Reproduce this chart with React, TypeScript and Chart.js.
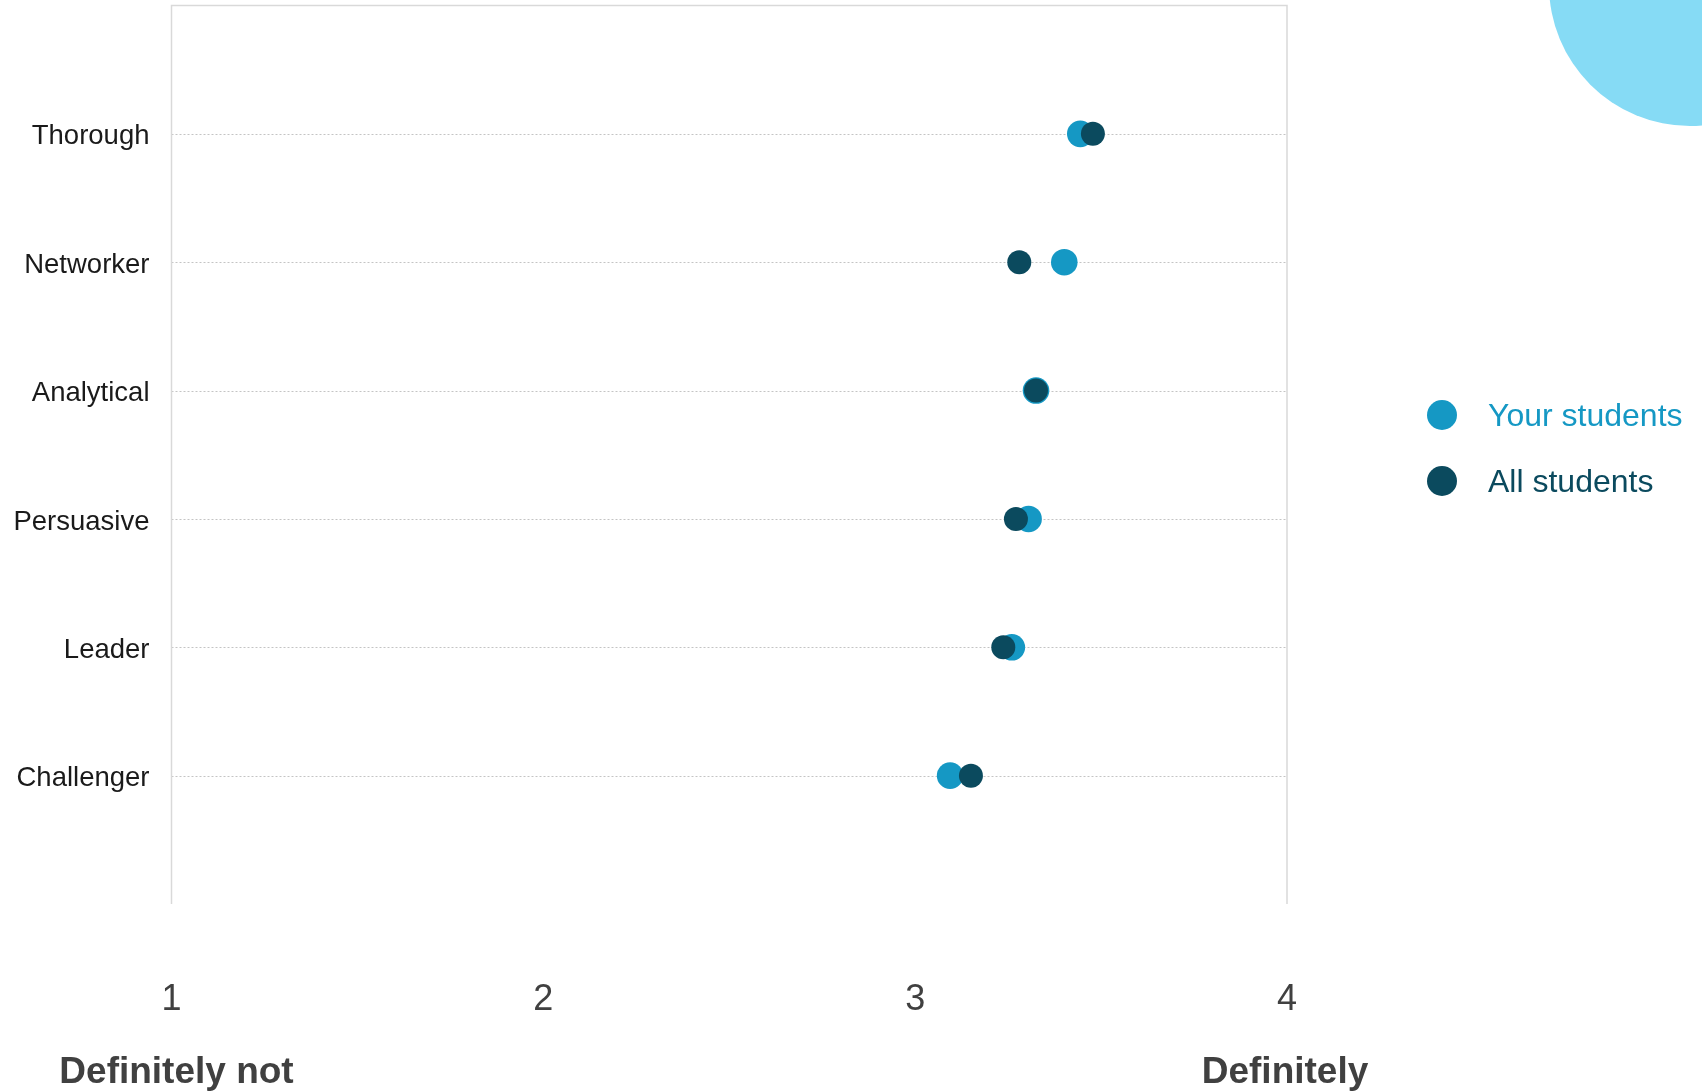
import React, { useEffect, useRef } from "react";
import { Chart, registerables } from "chart.js";

Chart.register(...registerables);

const categories = ["Thorough", "Networker", "Analytical", "Persuasive", "Leader", "Challenger"];
const yourStudents = [3.444, 3.401, 3.325, 3.305, 3.26, 3.094];
const allStudents = [3.478, 3.28, 3.325, 3.271, 3.237, 3.15];
const xTicks = [1, 2, 3, 4];
const xEndLabels = ["Definitely not", "Definitely"];
const seriesNames = ["Your students", "All students"];
const seriesColors = ["#1598C4", "#0B4A5E"];

const FONT = "'Liberation Sans', Arial, sans-serif";
const PLOT_TOP = 5.5;

const decorPlugin = {
  id: "decor",
  beforeDraw(chart: any) {
    const ctx = chart.ctx as CanvasRenderingContext2D;
    const { left, right, top, bottom } = chart.chartArea;
    const ys = chart.scales.y;
    ctx.save();
    ctx.fillStyle = "#ffffff";
    ctx.fillRect(0, 0, chart.width, chart.height);
    // decorative circle
    ctx.fillStyle = "#86DBF5";
    ctx.beginPath();
    ctx.arc(1690, -15, 141, 0, Math.PI * 2);
    ctx.fill();
    // dotted category gridlines
    ctx.strokeStyle = "#c4c4c4";
    ctx.lineWidth = 1;
    ctx.setLineDash([2, 2]);
    categories.forEach((_, i) => {
      const y = Math.round(ys.getPixelForValue(i + 1)) + 0.5;
      ctx.beginPath();
      ctx.moveTo(left, y);
      ctx.lineTo(right, y);
      ctx.stroke();
    });
    ctx.setLineDash([]);
    // frame (top, left, right)
    ctx.strokeStyle = "#d9d9d9";
    ctx.lineWidth = 1.5;
    ctx.beginPath();
    ctx.moveTo(left, bottom);
    ctx.lineTo(left, top);
    ctx.lineTo(right, top);
    ctx.lineTo(right, bottom);
    ctx.stroke();
    ctx.restore();
  },
  afterDraw(chart: any) {
    const ctx = chart.ctx as CanvasRenderingContext2D;
    const xs = chart.scales.x;
    ctx.save();
    // end labels under the axis
    ctx.font = `bold 37px ${FONT}`;
    ctx.fillStyle = "#404040";
    ctx.textAlign = "center";
    ctx.textBaseline = "middle";
    ctx.fillText(xEndLabels[0], xs.getPixelForValue(xTicks[0]) + 5, 1073);
    ctx.fillText(xEndLabels[1], xs.getPixelForValue(xTicks[xTicks.length - 1]) - 2, 1073);
    // legend
    const legendY = [415, 481];
    ctx.font = `32px ${FONT}`;
    ctx.textAlign = "left";
    ctx.textBaseline = "middle";
    seriesNames.forEach((name, i) => {
      ctx.fillStyle = seriesColors[i];
      ctx.beginPath();
      ctx.arc(1442, legendY[i], 15, 0, Math.PI * 2);
      ctx.fill();
      ctx.fillText(name, 1488, legendY[i] + 2);
    });
    ctx.restore();
  },
};

export default function App() {
  const ref = useRef<HTMLCanvasElement | null>(null);

  useEffect(() => {
    if (!ref.current) return;
    const chart = new Chart(ref.current, {
      type: "scatter",
      data: {
        datasets: [
          {
            label: seriesNames[0],
            data: yourStudents.map((v, i) => ({ x: v, y: i + 1 })),
            backgroundColor: seriesColors[0],
            pointBackgroundColor: seriesColors[0],
            pointBorderWidth: 0,
            borderWidth: 0,
            pointRadius: 13.3,
            pointHoverRadius: 13.3,
            order: 2,
          },
          {
            label: seriesNames[1],
            data: allStudents.map((v, i) => ({ x: v, y: i + 1 })),
            backgroundColor: seriesColors[1],
            pointBackgroundColor: seriesColors[1],
            pointBorderWidth: 0,
            borderWidth: 0,
            pointRadius: 12,
            pointHoverRadius: 12,
            order: 1,
          },
        ],
      },
      options: {
        responsive: false,
        animation: false,
        devicePixelRatio: 1,
        layout: { padding: { top: 0, right: 415, bottom: 0, left: 0 } },
        plugins: {
          legend: { display: false },
          tooltip: { enabled: false },
        },
        scales: {
          x: {
            type: "linear",
            min: xTicks[0],
            max: xTicks[xTicks.length - 1],
            grid: { display: false, drawTicks: false },
            border: { display: false },
            afterBuildTicks: (s: any) => {
              s.ticks = xTicks.map((v) => ({ value: v }));
            },
            ticks: {
              padding: 74,
              color: "#404040",
              font: { family: FONT, size: 36 },
              callback: (v: any) => String(v),
            },
            afterFit: (s: any) => {
              s.height = 188;
              s.paddingLeft = 0;
              s.paddingRight = 0;
              s.paddingTop = 0;
              s.paddingBottom = 0;
            },
          },
          y: {
            type: "linear",
            min: 0,
            max: categories.length + 1,
            reverse: true,
            grid: { display: false, drawTicks: false },
            border: { display: false },
            afterBuildTicks: (s: any) => {
              s.ticks = categories.map((_, i) => ({ value: i + 1 }));
            },
            ticks: {
              padding: 22,
              labelOffset: 3,
              color: "#1a1a1a",
              font: { family: FONT, size: 27.5 },
              callback: (v: any) => categories[Number(v) - 1] ?? "",
            },
            afterFit: (s: any) => {
              s.width = 171.5;
              s.paddingTop = 0;
              s.paddingBottom = 0;
              s.paddingLeft = 0;
              s.paddingRight = 0;
            },
          },
        },
      },
      plugins: [
        {
          id: "fixArea",
          afterLayout(chart: any) {
            const area = chart.chartArea;
            const bottom = area.bottom;
            area.top = PLOT_TOP;
            area.height = bottom - PLOT_TOP;
            const ys = chart.scales.y;
            ys.top = PLOT_TOP;
            ys.height = bottom - PLOT_TOP;
            ys.bottom = bottom;
            ys.configure();
          },
        },
        decorPlugin,
      ],
    } as any);
    return () => chart.destroy();
  }, []);

  return (
    <div style={{ position: "absolute", left: 0, top: 0, width: 1702, height: 1092, background: "#fff" }}>
      <canvas ref={ref} width={1702} height={1092} style={{ width: 1702, height: 1092, display: "block" }} />
    </div>
  );
}
